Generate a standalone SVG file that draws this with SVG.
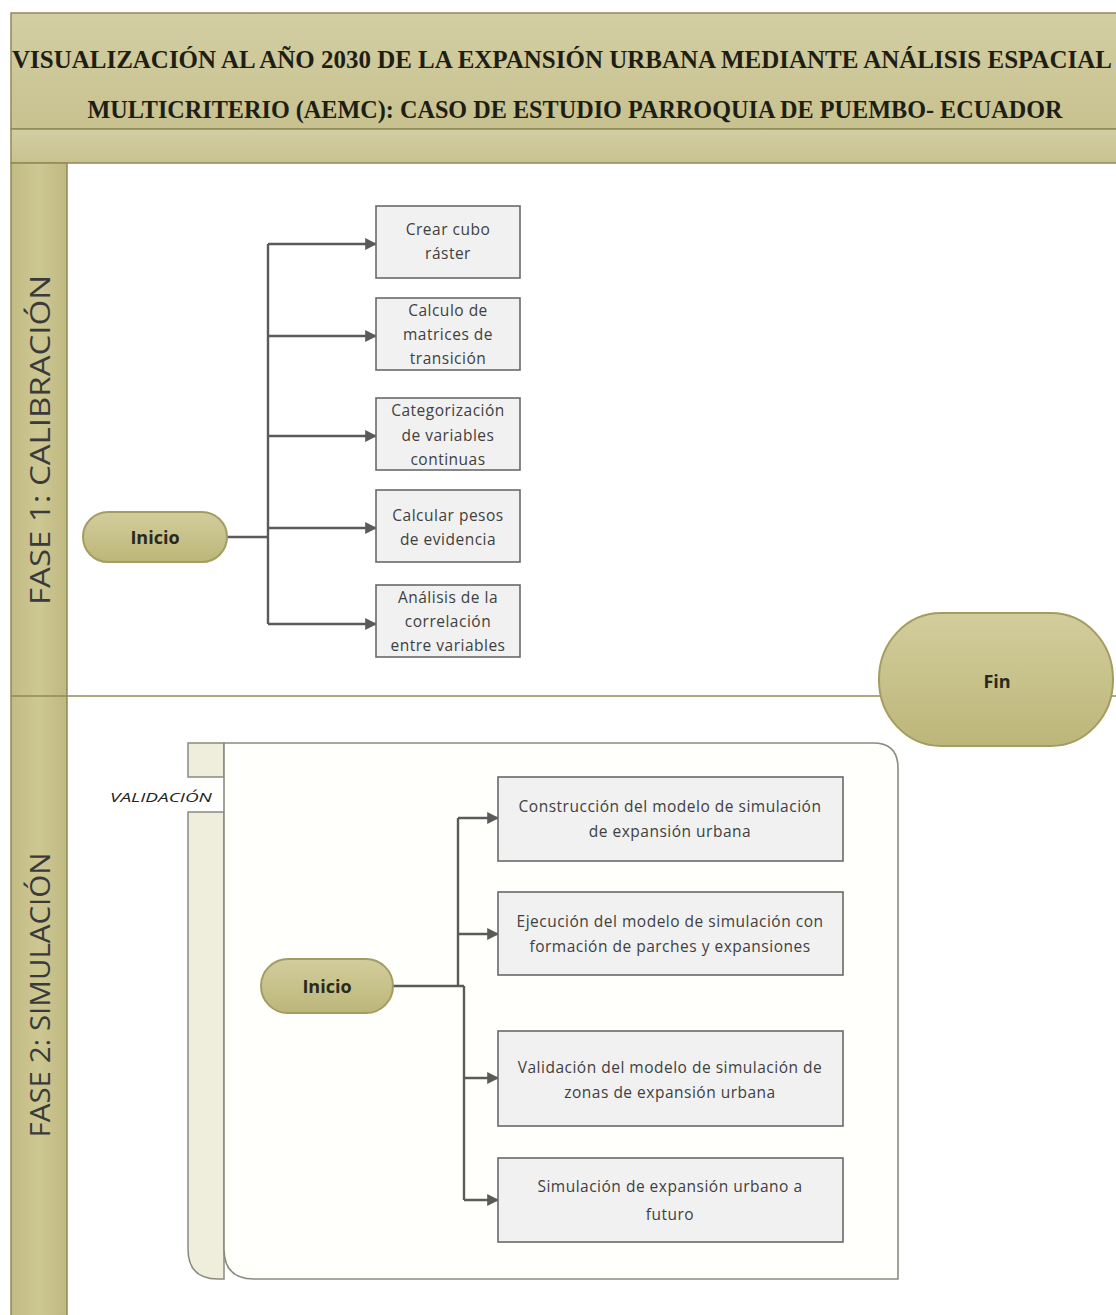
<svg xmlns="http://www.w3.org/2000/svg" width="1116" height="1315" viewBox="0 0 1116 1315">
  <defs>
    <linearGradient id="bandGrad" x1="0" y1="0" x2="0" y2="1">
      <stop offset="0" stop-color="#d3cea3"/>
      <stop offset="1" stop-color="#c8c290"/>
    </linearGradient>
    <linearGradient id="colGrad" x1="0" y1="0" x2="1" y2="0">
      <stop offset="0" stop-color="#c2bb84"/>
      <stop offset="0.5" stop-color="#cdc793"/>
      <stop offset="1" stop-color="#bfb880"/>
    </linearGradient>
    <linearGradient id="termGrad" x1="0" y1="0" x2="0" y2="1">
      <stop offset="0" stop-color="#d2cd9c"/>
      <stop offset="1" stop-color="#bdb67a"/>
    </linearGradient>
    <marker id="arrow" viewBox="0 0 10 10" refX="9" refY="5" markerWidth="5" markerHeight="5" orient="auto" markerUnits="strokeWidth">
      <path d="M0,0 L10,5 L0,10 z" fill="#5a5a5a"/>
    </marker>
    <style>
      .title { font-family: "Liberation Serif", "Times New Roman", serif; font-weight: bold; font-size: 25px; fill: #1e1e14; }
      .phase { font-family: "Open Sans", "Liberation Sans", sans-serif; font-size: 27px; fill: #3a3a3a; }
      .box { fill: #f1f1f1; stroke: #6a6a6a; stroke-width: 1.6; }
      .boxtxt { font-family: "Open Sans", "Liberation Sans", sans-serif; font-size: 15.5px; letter-spacing: 0.5px; fill: #404040; text-anchor: middle; }
      .term { fill: url(#termGrad); stroke: #a39d62; stroke-width: 2; }
      .termtxt { font-family: "Open Sans", "Liberation Sans", sans-serif; font-size: 18px; font-weight: bold; fill: #2a2a1c; text-anchor: middle; }
      .conn { fill: none; stroke: #5a5a5a; stroke-width: 2.4; }
      .frame { stroke: #8f8a57; stroke-width: 1.5; }
    </style>
  </defs>

  <rect x="0" y="0" width="1116" height="1315" fill="#ffffff"/>

  <!-- Pool header: title band and sub band -->
  <g id="pool-header">
    <rect x="11" y="13" width="1110" height="116" fill="url(#bandGrad)" class="frame"/>
    <rect x="11" y="129" width="1110" height="34" fill="url(#bandGrad)" class="frame"/>
    <text class="title" x="562" y="68" text-anchor="middle" textLength="1100" lengthAdjust="spacingAndGlyphs">VISUALIZACIÓN AL AÑO 2030 DE LA EXPANSIÓN URBANA MEDIANTE ANÁLISIS ESPACIAL</text>
    <text class="title" x="575" y="118" text-anchor="middle" textLength="975" lengthAdjust="spacingAndGlyphs">MULTICRITERIO (AEMC): CASO DE ESTUDIO PARROQUIA DE PUEMBO- ECUADOR</text>
  </g>

  <!-- Lane headers -->
  <g id="lane-headers">
    <rect x="11" y="163" width="56" height="1160" fill="url(#colGrad)" class="frame"/>
    <line x1="11" y1="696" x2="1116" y2="696" stroke="#8f8a57" stroke-width="1.5"/>
    <text class="phase" transform="translate(50,440) rotate(-90)" text-anchor="middle" textLength="330" lengthAdjust="spacingAndGlyphs">FASE 1: CALIBRACIÓN</text>
    <text class="phase" transform="translate(50,995) rotate(-90)" text-anchor="middle" textLength="285" lengthAdjust="spacingAndGlyphs">FASE 2: SIMULACIÓN</text>
  </g>

  <!-- Validation container (lane 2) -->
  <g id="validacion">
    <rect x="188" y="743" width="36" height="34" fill="#efeedd" stroke="#8a8a80" stroke-width="1.5"/>
    <path d="M188,812 L224,812 L224,1279 L218,1279 Q188,1279 188,1249 Z" fill="#efeedd" stroke="#8a8a80" stroke-width="1.5"/>
    <path d="M224,743 L873,743 Q898,743 898,768 L898,1279 L254,1279 Q224,1279 224,1249 Z" fill="#fffffb" stroke="#8a8a80" stroke-width="1.6"/>
    <text x="110" y="802" font-family="Open Sans, Liberation Sans, sans-serif" font-size="12.5" font-style="italic" fill="#222" textLength="102" lengthAdjust="spacingAndGlyphs">VALIDACIÓN</text>
  </g>

  <!-- Connectors -->
  <g id="connectors">
    <path class="conn" d="M227,537 L268,537"/>
    <path class="conn" d="M268,244 L268,624"/>
    <path class="conn" d="M268,244 L376,244" marker-end="url(#arrow)"/>
    <path class="conn" d="M268,336 L376,336" marker-end="url(#arrow)"/>
    <path class="conn" d="M268,436 L376,436" marker-end="url(#arrow)"/>
    <path class="conn" d="M268,528 L376,528" marker-end="url(#arrow)"/>
    <path class="conn" d="M268,624 L376,624" marker-end="url(#arrow)"/>

    <path class="conn" d="M393,986 L464,986"/>
    <path class="conn" d="M458,986 L458,818"/>
    <path class="conn" d="M464,986 L464,1200"/>
    <path class="conn" d="M458,818 L498,818" marker-end="url(#arrow)"/>
    <path class="conn" d="M458,934 L498,934" marker-end="url(#arrow)"/>
    <path class="conn" d="M464,1078 L498,1078" marker-end="url(#arrow)"/>
    <path class="conn" d="M464,1200 L498,1200" marker-end="url(#arrow)"/>
  </g>

  <!-- Phase 1 nodes -->
  <g id="inicio-1">
    <rect class="term" x="83" y="512" width="144" height="50" rx="25" ry="25"/>
    <text class="termtxt" x="155" y="544">Inicio</text>
  </g>
  <g id="crear-cubo">
    <rect class="box" x="376" y="206" width="144" height="72"/>
    <text class="boxtxt" x="448" y="235">Crear cubo</text>
    <text class="boxtxt" x="448" y="259">ráster</text>
  </g>
  <g id="matrices">
    <rect class="box" x="376" y="298" width="144" height="72"/>
    <text class="boxtxt" x="448" y="316">Calculo de</text>
    <text class="boxtxt" x="448" y="340">matrices de</text>
    <text class="boxtxt" x="448" y="364">transición</text>
  </g>
  <g id="categorizacion">
    <rect class="box" x="376" y="398" width="144" height="72"/>
    <text class="boxtxt" x="448" y="416">Categorización</text>
    <text class="boxtxt" x="448" y="441">de variables</text>
    <text class="boxtxt" x="448" y="465">continuas</text>
  </g>
  <g id="pesos">
    <rect class="box" x="376" y="490" width="144" height="72"/>
    <text class="boxtxt" x="448" y="521">Calcular pesos</text>
    <text class="boxtxt" x="448" y="545">de evidencia</text>
  </g>
  <g id="correlacion">
    <rect class="box" x="376" y="585" width="144" height="72"/>
    <text class="boxtxt" x="448" y="603">Análisis de la</text>
    <text class="boxtxt" x="448" y="627">correlación</text>
    <text class="boxtxt" x="448" y="651">entre variables</text>
  </g>

  <!-- End node -->
  <g id="fin">
    <rect class="term" x="879" y="613" width="234" height="133" rx="62" ry="66"/>
    <text class="termtxt" x="997" y="688">Fin</text>
  </g>

  <!-- Phase 2 nodes -->
  <g id="inicio-2">
    <rect class="term" x="261" y="959" width="132" height="54" rx="27" ry="27"/>
    <text class="termtxt" x="327" y="993">Inicio</text>
  </g>
  <g id="construccion">
    <rect class="box" x="498" y="777" width="345" height="84"/>
    <text class="boxtxt" x="670" y="812">Construcción del modelo de simulación</text>
    <text class="boxtxt" x="670" y="837">de expansión urbana</text>
  </g>
  <g id="ejecucion">
    <rect class="box" x="498" y="892" width="345" height="83"/>
    <text class="boxtxt" x="670" y="927">Ejecución del modelo de simulación con</text>
    <text class="boxtxt" x="670" y="952">formación de parches y expansiones</text>
  </g>
  <g id="validacion-modelo">
    <rect class="box" x="498" y="1031" width="345" height="95"/>
    <text class="boxtxt" x="670" y="1073">Validación del modelo de simulación de</text>
    <text class="boxtxt" x="670" y="1098">zonas de expansión urbana</text>
  </g>
  <g id="simulacion-futuro">
    <rect class="box" x="498" y="1158" width="345" height="84"/>
    <text class="boxtxt" x="670" y="1192">Simulación de expansión urbano a</text>
    <text class="boxtxt" x="670" y="1220">futuro</text>
  </g>
</svg>
